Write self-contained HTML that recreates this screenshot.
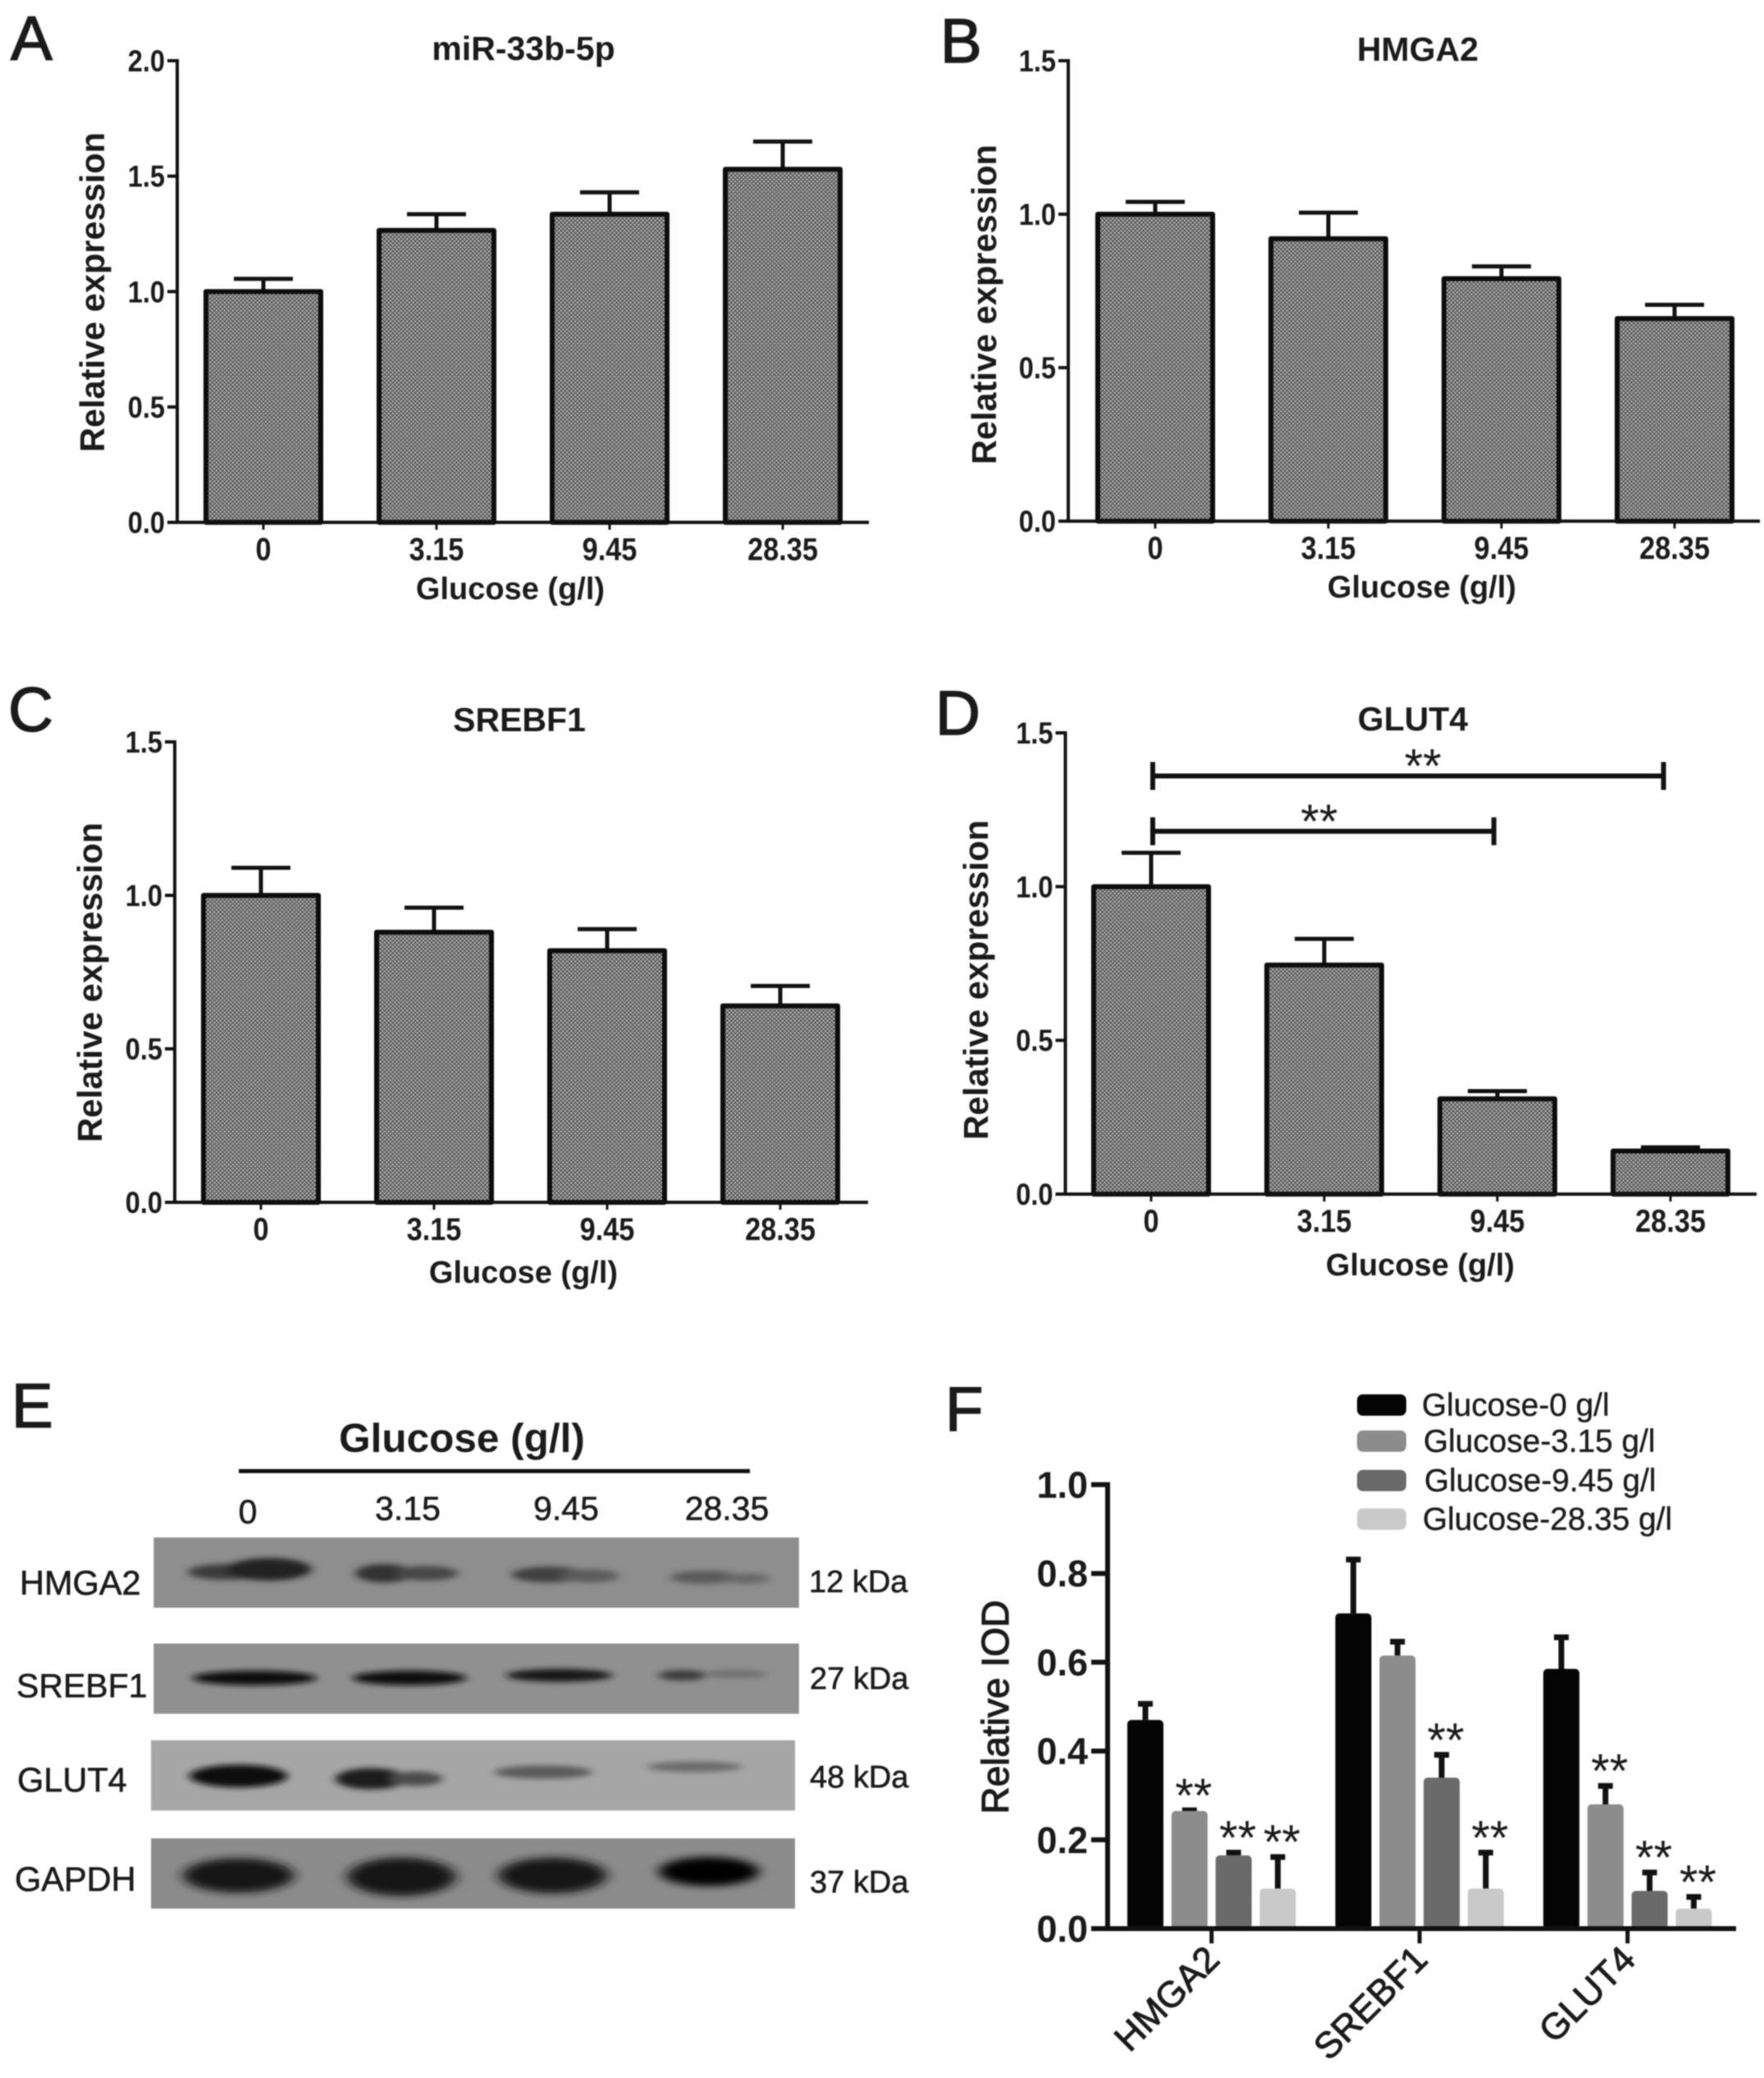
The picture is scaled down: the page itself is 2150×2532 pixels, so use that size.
<!DOCTYPE html>
<html lang="en">
<head>
<meta charset="utf-8">
<title>Glucose expression figure</title>
<style>
html,body{margin:0;padding:0;background:#fff}
svg{display:block;filter:blur(.7px)}
text{font-family:"Liberation Sans",sans-serif;fill:#1a1a1a}
.b{font-weight:bold}
.letter{stroke:#1a1a1a;stroke-width:1.5}
.semi{stroke:#1a1a1a;stroke-width:.6}
</style>
</head>
<body>
<svg id="fig" xmlns="http://www.w3.org/2000/svg" width="2150" height="2532" viewBox="0 0 2150 2532">
<defs>
<pattern id="dots" width="5" height="5" patternUnits="userSpaceOnUse">
<rect width="5" height="5" fill="#5c5c5c"/>
<circle cx="1.25" cy="1.25" r="1.1" fill="#cacaca"/>
<circle cx="3.75" cy="3.75" r="1.1" fill="#cacaca"/>
</pattern>
<filter id="blur3" x="-30%" y="-100%" width="160%" height="300%"><feGaussianBlur stdDeviation="3.5 2.2"/></filter>
<filter id="blur5" x="-30%" y="-100%" width="160%" height="300%"><feGaussianBlur stdDeviation="5 3"/></filter>
</defs>

<text class="letter" x="13" y="73" font-size="76">A</text>
<text class="letter" x="1146" y="76" font-size="76">B</text>
<text class="letter" x="10" y="891" font-size="76">C</text>
<text class="letter" x="1140" y="895" font-size="76">D</text>
<text class="letter" x="14" y="1739" font-size="76">E</text>
<text class="letter" x="1152" y="1743" font-size="76">F</text>

<text class="b" x="638" y="73" font-size="41" text-anchor="middle">miR-33b-5p</text>
<text class="b" x="1728" y="74" font-size="41" text-anchor="middle">HMGA2</text>
<text class="b" x="633" y="891" font-size="41" text-anchor="middle">SREBF1</text>
<text class="b" x="1722" y="890" font-size="41" text-anchor="middle">GLUT4</text>

<text class="b" x="622" y="730" font-size="38" text-anchor="middle">Glucose (g/l)</text>
<text class="b" x="1733" y="728" font-size="38" text-anchor="middle">Glucose (g/l)</text>
<text class="b" x="638" y="1563" font-size="38" text-anchor="middle">Glucose (g/l)</text>
<text class="b" x="1731" y="1554" font-size="38" text-anchor="middle">Glucose (g/l)</text>

<text class="b" transform="translate(127 356) rotate(-90)" font-size="41.5" text-anchor="middle">Relative expression</text>
<text class="b" transform="translate(1214 371) rotate(-90)" font-size="41.5" text-anchor="middle">Relative expression</text>
<text class="b" transform="translate(124 1197) rotate(-90)" font-size="41.5" text-anchor="middle">Relative expression</text>
<text class="b" transform="translate(1204 1194) rotate(-90)" font-size="41.5" text-anchor="middle">Relative expression</text>

<g id="panel-a"></g>
<g id="panel-b"></g>
<g id="panel-c"></g>
<g id="panel-d"></g>
<g id="panel-f"></g>

<!-- Western blot panel -->
<g id="blot" transform="scale(1.615)">
<rect x="116" y="1160" width="487" height="53" fill="#8e8e8e"/>
<rect x="116" y="1240" width="487" height="53" fill="#909090"/>
<rect x="114" y="1313" width="486" height="53" fill="#a6a6a6"/>
<rect x="114" y="1387" width="486" height="53" fill="#8c8c8c"/>
<g filter="url(#blur3)">
<ellipse cx="170" cy="1186" rx="28" ry="6" fill="#3a3a3a"/>
<ellipse cx="203" cy="1184" rx="32" ry="8.5" fill="#222"/>
<ellipse cx="290" cy="1187" rx="22" ry="7" fill="#333"/>
<ellipse cx="322" cy="1187" rx="24" ry="5.5" fill="#474747"/>
<ellipse cx="414" cy="1188" rx="28" ry="6" fill="#414141"/>
<ellipse cx="445" cy="1189" rx="22" ry="5" fill="#5c5c5c"/>
<ellipse cx="532" cy="1190" rx="26" ry="5" fill="#5a5a5a"/>
<ellipse cx="563" cy="1191" rx="18" ry="4" fill="#686868"/>

<ellipse cx="192" cy="1266" rx="47" ry="5.5" fill="#111"/>
<ellipse cx="309" cy="1266" rx="43" ry="5.5" fill="#0e0e0e"/>
<ellipse cx="422" cy="1264" rx="40" ry="4.8" fill="#191919"/>
<ellipse cx="515" cy="1264" rx="18" ry="4" fill="#3a3a3a"/>
<ellipse cx="555" cy="1263" rx="24" ry="3" fill="#6e6e6e"/>

<ellipse cx="180" cy="1340" rx="37" ry="8.5" fill="#0c0c0c"/>
<ellipse cx="280" cy="1342" rx="27" ry="8" fill="#1e1e1e"/>
<ellipse cx="314" cy="1342" rx="20" ry="5.5" fill="#4c4c4c"/>
<ellipse cx="410" cy="1337" rx="37" ry="5" fill="#5a5a5a"/>
<ellipse cx="524" cy="1333" rx="36" ry="4" fill="#6a6a6a"/>
</g>
<g filter="url(#blur5)">
<ellipse cx="180" cy="1415" rx="42" ry="13" fill="#161616"/>
<ellipse cx="303" cy="1416" rx="41" ry="14.5" fill="#121212"/>
<ellipse cx="417" cy="1415" rx="41" ry="13.5" fill="#121212"/>
<ellipse cx="535" cy="1412" rx="38" ry="11" fill="#060606"/>
</g>
</g>
<text class="b" x="563" y="1769" font-size="49.5" text-anchor="middle">Glucose (g/l)</text>
<rect x="291" y="1790" width="623" height="5" fill="#111"/>
<text class="semi" x="302" y="1856" font-size="41" text-anchor="middle">0</text>
<text class="semi" x="497" y="1852" font-size="41" text-anchor="middle">3.15</text>
<text class="semi" x="690" y="1852" font-size="41" text-anchor="middle">9.45</text>
<text class="semi" x="886" y="1852" font-size="41" text-anchor="middle">28.35</text>
<text class="semi" x="24" y="1943" font-size="41.5">HMGA2</text>
<text class="semi" x="20" y="2068" font-size="41">SREBF1</text>
<text class="semi" x="21" y="2183" font-size="41.5">GLUT4</text>
<text class="semi" x="18" y="2304" font-size="41.5">GAPDH</text>
<text class="semi" x="986" y="1940" font-size="38">12 kDa</text>
<text class="semi" x="987" y="2058" font-size="38">27 kDa</text>
<text class="semi" x="987" y="2178" font-size="38">48 kDa</text>
<text class="semi" x="987" y="2306" font-size="38">37 kDa</text>

<text transform="translate(1229 2080) rotate(-90)" font-size="46" text-anchor="middle" style="stroke:#1a1a1a;stroke-width:1.2">Relative IOD</text>
</svg>

<script>
// ---- chart data ----
var glucoseLevels = ['0', '3.15', '9.45', '28.35'];

var yTicksA = ['0.0', '0.5', '1.0', '1.5', '2.0'];
var valuesA = [1.0, 1.265, 1.335, 1.53];
var errorsA = [0.055, 0.07, 0.095, 0.12];

var yTicksB = ['0.0', '0.5', '1.0', '1.5'];
var valuesB = [1.0, 0.92, 0.79, 0.66];
var errorsB = [0.04, 0.085, 0.04, 0.045];

var yTicksC = ['0.0', '0.5', '1.0', '1.5'];
var valuesC = [1.0, 0.88, 0.82, 0.64];
var errorsC = [0.09, 0.08, 0.07, 0.065];

var yTicksD = ['0.0', '0.5', '1.0', '1.5'];
var valuesD = [1.0, 0.745, 0.31, 0.14];
var errorsD = [0.11, 0.085, 0.025, 0.012];
var bracketLevelsD = [1.36, 1.18];
var bracketEndsD = [2.96, 1.98];

var yTicksF = ['0.0', '0.2', '0.4', '0.6', '0.8', '1.0'];
var genes = ['HMGA2', 'SREBF1', 'GLUT4'];
var seriesNames = ['Glucose-0 g/l', 'Glucose-3.15 g/l', 'Glucose-9.45 g/l', 'Glucose-28.35 g/l'];
var series0 = [0.47, 0.71, 0.585];
var series315 = [0.265, 0.615, 0.28];
var series945 = [0.165, 0.34, 0.085];
var series2835 = [0.09, 0.09, 0.045];
var errors0 = [0.04, 0.125, 0.075];
var errors315 = [0.005, 0.035, 0.045];
var errors945 = [0.01, 0.055, 0.045];
var errors2835 = [0.075, 0.085, 0.03];
var stars0 = [0, 0, 0];
var stars315 = [1, 0, 1];
var stars945 = [1, 1, 1];
var stars2835 = [1, 1, 1];

// ---- drawing ----
var NS = 'http://www.w3.org/2000/svg';
function make(parent, tag, attrs, content) {
  var el = document.createElementNS(NS, tag);
  for (var k in attrs) el.setAttribute(k, attrs[k]);
  if (content !== undefined) el.textContent = content;
  parent.appendChild(el);
  return el;
}

function drawBarPanel(id, key, g, yTicks, values, errors) {
  var root = document.getElementById(id);
  var yMax = parseFloat(yTicks[yTicks.length - 1]);
  function y(v) { return g.bottom - (g.bottom - g.top) * v / yMax; }
  function x(i) { return g.first + g.step * i; }

  values.forEach(function (v, i) {
    var top = y(v + errors[i]);
    var stem = make(root, 'line', {x1: x(i), x2: x(i), y1: y(v), y2: top, stroke: '#111', 'stroke-width': 5});
    
    
    var cap = make(root, 'line', {x1: x(i) - 36, x2: x(i) + 36, y1: top, y2: top, stroke: '#111', 'stroke-width': 5});
    
    
    var bar = make(root, 'rect', {x: x(i) - 70, y: y(v), width: 140, height: g.bottom - y(v), fill: 'url(#dots)', stroke: '#0c0c0c', 'stroke-width': 6, 'stroke-linejoin': 'round'});
    
    
    var tick = make(root, 'line', {x1: x(i), x2: x(i), y1: g.bottom, y2: g.bottom + 9, stroke: '#111', 'stroke-width': 3});
    
    
    var lab = make(root, 'text', {transform: 'translate(' + x(i) + ' ' + (g.bottom + 46) + ') scale(.88 1)', 'font-size': 39, 'font-weight': 'bold', 'text-anchor': 'middle'}, glucoseLevels[i]);
    
    
  });

  var yAxis = make(root, 'line', {x1: g.axis, x2: g.axis, y1: g.top - 2, y2: g.bottom, stroke: '#111', 'stroke-width': 4});
  
  
  var xAxis = make(root, 'line', {x1: g.axis - 12, x2: g.end, y1: g.bottom, y2: g.bottom, stroke: '#111', 'stroke-width': 4});
  
  

  yTicks.forEach(function (t) {
    var ty = y(parseFloat(t));
    var tick = make(root, 'line', {x1: g.axis - 12, x2: g.axis, y1: ty, y2: ty, stroke: '#111', 'stroke-width': 4});
    
    
    var lab = make(root, 'text', {transform: 'translate(' + (g.axis - 15) + ' ' + (ty + 13) + ') scale(.88 1)', 'font-size': 37, 'font-weight': 'bold', 'text-anchor': 'end'}, t);
    
    
  });
  return {x: x, y: y, root: root};
}

drawBarPanel('panel-a', 'a', {axis: 216, top: 74, bottom: 636.5, end: 1059, first: 321, step: 211}, yTicksA, valuesA, errorsA);
drawBarPanel('panel-b', 'b', {axis: 1302, top: 74, bottom: 635, end: 2145, first: 1408, step: 211}, yTicksB, valuesB, errorsB);
drawBarPanel('panel-c', 'c', {axis: 213, top: 904, bottom: 1465, end: 1058, first: 318, step: 211}, yTicksC, valuesC, errorsC);
var panelD = drawBarPanel('panel-d', 'd', {axis: 1298.5, top: 893, bottom: 1455, end: 2141, first: 1403, step: 211}, yTicksD, valuesD, errorsD);

var bracketStarShift = [18, -5];
bracketLevelsD.forEach(function (level, i) {
  var by = panelD.y(level);
  var x1 = panelD.x(0) + 2;
  var x2 = panelD.x(bracketEndsD[i]);
  var line = make(panelD.root, 'path', {d: 'M' + x1 + ' ' + (by - 17) + 'V' + (by + 17) + 'M' + x1 + ' ' + by + 'H' + x2 + 'M' + x2 + ' ' + (by - 17) + 'V' + (by + 17), fill: 'none', stroke: '#111', 'stroke-width': 6});
  
  
  var star = make(panelD.root, 'text', {x: (x1 + x2) / 2 + bracketStarShift[i], y: by + 8, 'font-size': 58, 'text-anchor': 'middle'}, '**');
  
  
});

// panel F
(function () {
  var root = document.getElementById('panel-f');
  var axisX = 1350, top = 1809, bottom = 2350, end = 2116;
  var firstBar = 1396, barStep = 53.8, groupStep = 253.5, barW = 44;
  var colors = ['#050505', '#8c8c8c', '#6a6a6a', '#c9c9c9'];
  var allValues = [series0, series315, series945, series2835];
  var allErrors = [errors0, errors315, errors945, errors2835];
  var allStars = [stars0, stars315, stars945, stars2835];
  var yMax = parseFloat(yTicksF[yTicksF.length - 1]);
  function y(v) { return bottom - (bottom - top) * v / yMax; }
  function x(g, s) { return firstBar + groupStep * g + barStep * s; }

  genes.forEach(function (gene, g) {
    allValues.forEach(function (vals, s) {
      var v = vals[g];
      var t = y(v + allErrors[s][g]);
      var stem = make(root, 'line', {x1: x(g, s), x2: x(g, s), y1: y(v), y2: t, stroke: '#111', 'stroke-width': 7});
      
      
      var cap = make(root, 'line', {x1: x(g, s) - 9, x2: x(g, s) + 9, y1: t + 2, y2: t + 2, stroke: '#111', 'stroke-width': 7});
      
      
      var bar = make(root, 'rect', {x: x(g, s) - barW / 2, y: y(v), width: barW, height: bottom - y(v), rx: 5, fill: colors[s]});
      
      
      if (allStars[s][g]) {
        var star = make(root, 'text', {x: x(g, s) + 5, y: t + 4, 'font-size': 58, 'text-anchor': 'middle', fill: '#333'}, '**');
        
        
      }
    });
    var cx = x(g, 1.5);
    var tick = make(root, 'line', {x1: cx, x2: cx, y1: bottom, y2: bottom + 18, stroke: '#111', 'stroke-width': 5});
    
    
    var lab = make(root, 'text', {transform: 'translate(' + (cx + 12) + ' ' + (bottom + 40) + ') rotate(-45)', 'font-size': 44.5, 'text-anchor': 'end', style: 'stroke:#1a1a1a;stroke-width:1'}, gene);
    
    
  });

  var yAxis = make(root, 'line', {x1: axisX, x2: axisX, y1: top - 3, y2: bottom + 3, stroke: '#111', 'stroke-width': 6});
  
  
  var xAxis = make(root, 'line', {x1: axisX - 20, x2: end, y1: bottom, y2: bottom, stroke: '#111', 'stroke-width': 6});
  
  

  yTicksF.forEach(function (t) {
    var ty = y(parseFloat(t));
    var tick = make(root, 'line', {x1: axisX - 20, x2: axisX, y1: ty, y2: ty, stroke: '#111', 'stroke-width': 6});
    
    
    var lab = make(root, 'text', {x: axisX - 24, y: ty + 16, 'font-size': 45, 'font-weight': 'bold', 'text-anchor': 'end'}, t);
    
    
  });

  var legendRows = [1712, 1756, 1804, 1851];
  var legendTextX = [1733, 1735, 1736, 1734];
  seriesNames.forEach(function (name, s) {
    var sw = make(root, 'rect', {x: 1654, y: legendRows[s] - 13, width: 60, height: 26, rx: 7, fill: colors[s]});
    
    
    var lab = make(root, 'text', {x: legendTextX[s], y: legendRows[s] + 13, 'font-size': 38.8, style: 'stroke:#1a1a1a;stroke-width:.4'}, name);
    
    
  });
})();
</script>
</body>
</html>
